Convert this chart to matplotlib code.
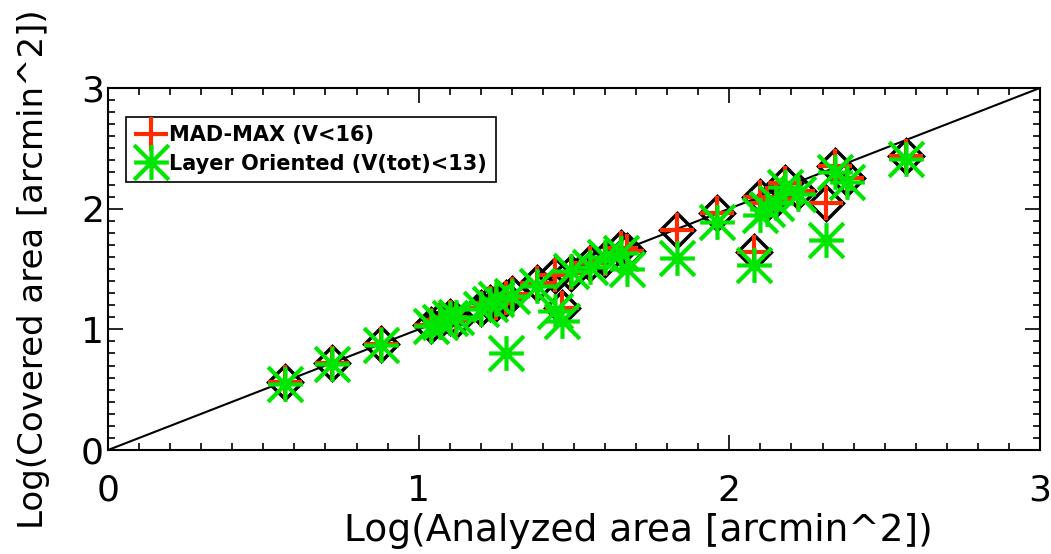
import matplotlib
matplotlib.use("Agg")
import matplotlib.pyplot as plt
from matplotlib.path import Path
from matplotlib.ticker import MultipleLocator

# Data: log analyzed area, log covered area (MAD-MAX), log covered area (Layer Oriented)
log_analyzed = [0.57, 0.72, 0.88, 1.04, 1.07, 1.10, 1.12, 1.20, 1.23, 1.25, 1.28, 1.30,
                1.38, 1.44, 1.46, 1.49, 1.55, 1.60, 1.65, 1.67, 1.83, 1.96, 2.08, 2.10,
                2.12, 2.15, 2.18, 2.22, 2.31, 2.34, 2.38, 2.57]
cov_madmax = [0.56, 0.72, 0.88, 1.04, 1.08, 1.10, 1.08, 1.18, 1.22, 1.22, 1.26, 1.29,
              1.38, 1.45, 1.18, 1.47, 1.55, 1.58, 1.67, 1.65, 1.82, 1.96, 1.64, 2.10,
              2.05, 2.08, 2.21, 2.15, 2.05, 2.35, 2.25, 2.44]
cov_layer = [0.55, 0.71, 0.87, 1.03, 1.06, 1.09, 1.10, 1.17, 1.21, 1.25, 0.80, 1.28,
             1.36, 1.15, 1.07, 1.48, 1.52, 1.60, 1.63, 1.50, 1.59, 1.89, 1.53, 1.95,
             2.00, 2.05, 2.18, 2.12, 1.74, 2.30, 2.22, 2.41]
line_x = [0, 3]
label_mad = "MAD-MAX (V<16)"
label_lo = "Layer Oriented (V(tot)<13)"

RED = "#ff2a00"
GREEN = "#00e600"

asterisk = Path([(-1, 0), (1, 0), (0, -1), (0, 1), (-1, -1), (1, 1), (-1, 1), (1, -1)],
                [Path.MOVETO, Path.LINETO] * 4)

fig = plt.figure(figsize=(10.51, 5.54), dpi=100)
ax = fig.add_axes([0.1028, 0.1877, 0.8867, 0.6535])

ax.plot(line_x, line_x, color="black", lw=1.5, zorder=1)
ax.plot(log_analyzed, cov_madmax, ls="none", marker="D", ms=17.5, mfc="none",
        mec="black", mew=2.5, zorder=2)
h1, = ax.plot(log_analyzed, cov_madmax, ls="none", marker="+", ms=25, mew=3,
              color=RED, zorder=3)
h2, = ax.plot(log_analyzed, cov_layer, ls="none", marker=asterisk, ms=25, mew=3,
              color=GREEN, zorder=4)

ax.set_xlim(0, 3)
ax.set_ylim(0, 3)
ax.xaxis.set_major_locator(MultipleLocator(1))
ax.yaxis.set_major_locator(MultipleLocator(1))
ax.xaxis.set_minor_locator(MultipleLocator(0.1))
ax.yaxis.set_minor_locator(MultipleLocator(0.1))
ax.tick_params(which="both", direction="in", top=True, right=True, width=1.2)
ax.tick_params(which="major", length=11, labelsize=26)
ax.tick_params(axis="x", which="major", pad=17)
ax.tick_params(axis="y", which="major", pad=3)
ax.tick_params(which="minor", length=5)
for s in ax.spines.values():
    s.set_linewidth(1.5)

ax.set_xlabel("Log(Analyzed area [arcmin^2])", fontsize=27, va="center")
ax.xaxis.set_label_coords(0.569, -0.224)
ax.set_ylabel("Log(Covered area [arcmin^2])", fontsize=24.5, labelpad=22)

leg = ax.legend([h1, h2], [label_mad, label_lo], loc="upper left",
                bbox_to_anchor=(0.019, 0.92), borderaxespad=0, frameon=True,
                fancybox=False, edgecolor="black", framealpha=1,
                prop={"size": 15, "weight": "bold"}, handlelength=1.6,
                handletextpad=0.1, labelspacing=0.4, borderpad=0.4,
                markerscale=1.0)
leg.get_frame().set_linewidth(1.2)

fig.savefig("out.png", dpi=100)
